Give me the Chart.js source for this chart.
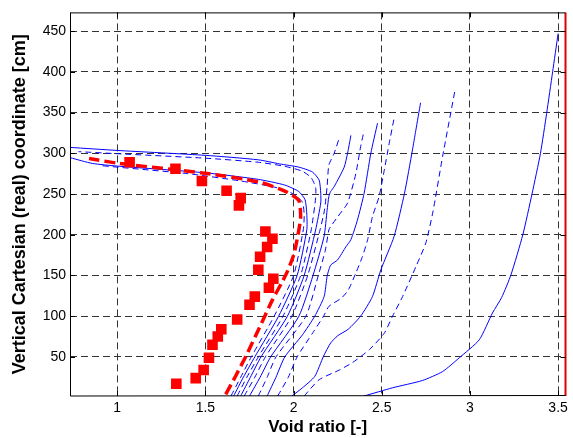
<!DOCTYPE html>
<html>
<head>
<meta charset="utf-8">
<script src="https://cdn.jsdelivr.net/npm/chart.js@4.4.1/dist/chart.umd.min.js"></script>
<style>
  body { margin: 0; background: #fff; }
  canvas { display: block; }
</style>
</head>
<body>
<canvas id="profileChart" width="573" height="438"></canvas>
<script>
// axis ranges and ticks
const xRange = [0.732, 3.542];
const yRange = [2, 473];
const xTicks = [1, 1.5, 2, 2.5, 3, 3.5];
const yTicks = [50, 100, 150, 200, 250, 300, 350, 400, 450];

// measured points [void ratio, height cm]
const measured = [
  [1.07, 289], [1.33, 281], [1.48, 266], [1.62, 254], [1.70, 245], [1.69, 236],
  [1.84, 204], [1.88, 195], [1.85, 185], [1.81, 173], [1.80, 157], [1.885, 146],
  [1.86, 135], [1.78, 124], [1.75, 114], [1.68, 96], [1.59, 84], [1.57, 75],
  [1.54, 65], [1.52, 49], [1.49, 34], [1.445, 24], [1.335, 17]
];

// fitted profile (red dashed)
const fitted = [
  [1.615, 4], [1.67, 26], [1.73, 51], [1.80, 83], [1.88, 120], [1.93, 140],
  [1.965, 155], [2.003, 177], [2.03, 206], [2.04, 222], [2.03, 242], [1.956, 253],
  [1.80, 265], [1.50, 275.4], [1.01, 287.6], [0.84, 293.5]
];

// computed profiles (blue), one per time step
const profile1 = [
  [2.40, 2], [2.56, 12], [2.73, 21], [2.845, 32], [2.94, 49], [3.053, 71], [3.128, 104],
  [3.18, 123], [3.233, 151], [3.30, 200], [3.352, 250], [3.40, 300], [3.435, 349],
  [3.469, 400], [3.50, 447]
];
const profile2 = [
  [2.06, 2], [2.145, 22], [2.26, 34], [2.334, 43], [2.43, 59], [2.514, 79], [2.561, 100],
  [2.618, 124], [2.694, 161], [2.75, 190], [2.79, 228], [2.845, 296], [2.915, 377]
];
const profile3 = [
  [1.99, 2], [2.05, 12], [2.12, 26], [2.17, 51], [2.21, 67], [2.25, 76], [2.31, 84],
  [2.38, 100], [2.447, 124], [2.495, 157], [2.57, 198], [2.629, 251], [2.674, 304],
  [2.693, 328], [2.72, 362]
];
const profile4 = [
  [1.91, 2], [1.97, 25], [2.02, 50], [2.11, 80], [2.17, 100], [2.20, 112], [2.27, 122],
  [2.31, 132], [2.353, 153], [2.39, 173], [2.42, 194], [2.447, 222], [2.485, 247],
  [2.514, 279], [2.542, 312], [2.57, 343]
];
const profile5 = [
  [1.85, 2], [1.90, 25], [1.95, 50], [2.05, 77], [2.12, 100], [2.173, 124], [2.19, 149],
  [2.20, 157], [2.211, 163], [2.249, 169], [2.296, 185], [2.325, 194], [2.362, 218],
  [2.40, 251], [2.438, 300], [2.476, 337]
];
const profile6 = [
  [1.80, 2], [1.85, 25], [1.90, 50], [2.07, 100], [2.14, 150], [2.18, 181], [2.20, 206],
  [2.21, 210], [2.25, 222], [2.306, 239], [2.353, 275], [2.38, 308], [2.40, 328]
];
const profile7 = [
  [1.75, 2], [1.81, 25], [1.87, 50], [2.03, 100], [2.11, 150], [2.173, 198], [2.19, 230],
  [2.20, 247], [2.21, 253], [2.23, 259], [2.287, 283], [2.306, 300], [2.325, 322]
];
const profile8 = [
  [1.72, 2], [1.78, 25], [1.84, 50], [1.99, 100], [2.08, 150], [2.15, 206], [2.175, 230],
  [2.19, 259], [2.20, 285.5], [2.23, 300], [2.258, 318]
];
const profile9 = [
  [1.70, 2], [1.755, 25], [1.815, 50], [1.965, 100], [2.06, 150], [2.125, 206],
  [2.154, 239], [2.154, 251], [2.145, 267], [2.107, 277], [2.03, 283], [1.92, 287],
  [1.80, 292], [1.50, 297.5], [1.0, 303.5], [0.735, 307.2]
];
const profile10 = [
  [1.68, 2], [1.735, 25], [1.80, 50], [1.94, 100], [2.04, 150], [2.10, 206], [2.125, 245],
  [2.125, 258], [2.10, 270], [2.05, 278], [1.95, 284], [1.80, 289], [1.50, 294],
  [1.0, 299.5], [0.78, 302]
];
const profile11 = [
  [1.66, 2], [1.715, 25], [1.78, 50], [1.915, 100], [2.02, 150], [2.075, 206], [2.075, 225],
  [2.065, 243], [2.03, 253], [1.95, 261], [1.80, 268], [1.50, 276], [1.0, 284.3],
  [0.858, 287.6], [0.735, 294.5]
];
const profile12 = [
  [1.645, 2], [1.70, 25], [1.76, 50], [1.89, 100], [2.00, 150], [2.055, 206], [2.06, 225],
  [2.05, 240], [2.00, 250], [1.90, 258], [1.70, 266], [1.40, 275], [1.0, 283], [0.9, 285]
];
const profiles = [profile1, profile2, profile3, profile4, profile5, profile6,
                  profile7, profile8, profile9, profile10, profile11, profile12];
const profileDashed = [false, true, false, true, false, true, false, true, false, true, false, true];

// vertical line at the right edge (max void ratio)
const maxVoidLine = [[3.542, 2], [3.542, 473]];

const toXY = arr => arr.map(p => ({ x: p[0], y: p[1] }));

const datasets = [];
datasets.push({
    label: 'measured',
    data: toXY(measured),
    showLine: false,
    pointStyle: 'rect',
    pointRadius: 7.5,
    pointBorderWidth: 0,
    backgroundColor: '#ff0000',
    order: 0
});
datasets.push({
    label: 'fitted',
    data: toXY(fitted),
    showLine: true,
    borderColor: '#ff0000',
    borderWidth: 3.5,
    borderDash: [11, 5],
    pointRadius: 0,
    tension: 0.2,
    order: 1
});
profiles.forEach((p, i) => {
    datasets.push({
        label: 'profile ' + (i + 1),
        data: toXY(p),
        showLine: true,
        borderColor: '#0000ff',
        borderWidth: 1,
        borderDash: profileDashed[i] ? [6, 4] : [],
        pointRadius: 0,
        tension: 0.2,
        order: 2
    });
});
datasets.push({
    label: 'max',
    data: toXY(maxVoidLine),
    showLine: true,
    borderColor: '#dd0000',
    borderWidth: 2,
    pointRadius: 0,
    clip: false,
    order: 1
});

// MATLAB-like box and inward tick marks
const boxPlugin = {
    id: 'box',
    afterDatasetsDraw(chart) {
        const { ctx, chartArea: a, scales } = chart;
        ctx.save();
        ctx.strokeStyle = '#000';
        ctx.lineWidth = 1;
        ctx.beginPath();
        ctx.moveTo(a.left + 0.5, a.top + 0.5);
        ctx.lineTo(a.right, a.top + 0.5);
        ctx.moveTo(a.left + 0.5, a.top);
        ctx.lineTo(a.left + 0.5, a.bottom);
        ctx.lineTo(a.right, a.bottom - 0.5);
        xTicks.forEach(v => {
            const px = Math.round(scales.x.getPixelForValue(v)) + 0.5;
            ctx.moveTo(px, a.bottom); ctx.lineTo(px, a.bottom - 5);
            ctx.moveTo(px, a.top); ctx.lineTo(px, a.top + 5);
        });
        yTicks.forEach(v => {
            const py = Math.round(scales.y.getPixelForValue(v)) + 0.5;
            ctx.moveTo(a.left, py); ctx.lineTo(a.left + 5, py);
            ctx.moveTo(a.right, py); ctx.lineTo(a.right - 5, py);
        });
        ctx.stroke();
        ctx.restore();
    }
};

const font = 'Liberation Sans, Arial, sans-serif';

new Chart(document.getElementById('profileChart'), {
    type: 'scatter',
    data: { datasets },
    options: {
        responsive: false,
        animation: false,
        devicePixelRatio: 1,
        layout: { padding: { top: 12, right: 7, left: 0, bottom: 0 } },
        plugins: { legend: { display: false }, tooltip: { enabled: false } },
        scales: {
            x: {
                type: 'linear',
                min: xRange[0],
                max: xRange[1],
                afterBuildTicks: s => { s.ticks = xTicks.map(v => ({ value: v })); },
                afterFit: s => { s.height = 42; },
                grid: { color: '#333', drawTicks: false, lineWidth: 1 },
                border: { display: false, dash: [7, 4] },
                ticks: {
                    padding: 4,
                    color: '#000',
                    font: { family: font, size: 14 },
                    callback: v => String(v)
                },
                title: {
                    display: true,
                    text: 'Void ratio [-]',
                    color: '#000',
                    font: { family: font, size: 17, weight: 'bold' },
                    padding: { top: 0, bottom: 0 }
                }
            },
            y: {
                type: 'linear',
                min: yRange[0],
                max: yRange[1],
                afterBuildTicks: s => { s.ticks = yTicks.map(v => ({ value: v })); },
                afterFit: s => { s.width = 70; },
                grid: { color: '#333', drawTicks: false, lineWidth: 1 },
                border: { display: false, dash: [7, 4] },
                ticks: {
                    padding: 4,
                    color: '#000',
                    font: { family: font, size: 14 },
                    callback: v => String(v)
                },
                title: {
                    display: true,
                    text: 'Vertical Cartesian (real) coordinate [cm]',
                    color: '#000',
                    font: { family: font, size: 18, weight: 'bold' },
                    padding: { top: 9, bottom: 0 }
                }
            }
        }
    },
    plugins: [boxPlugin]
});
</script>
</body>
</html>
